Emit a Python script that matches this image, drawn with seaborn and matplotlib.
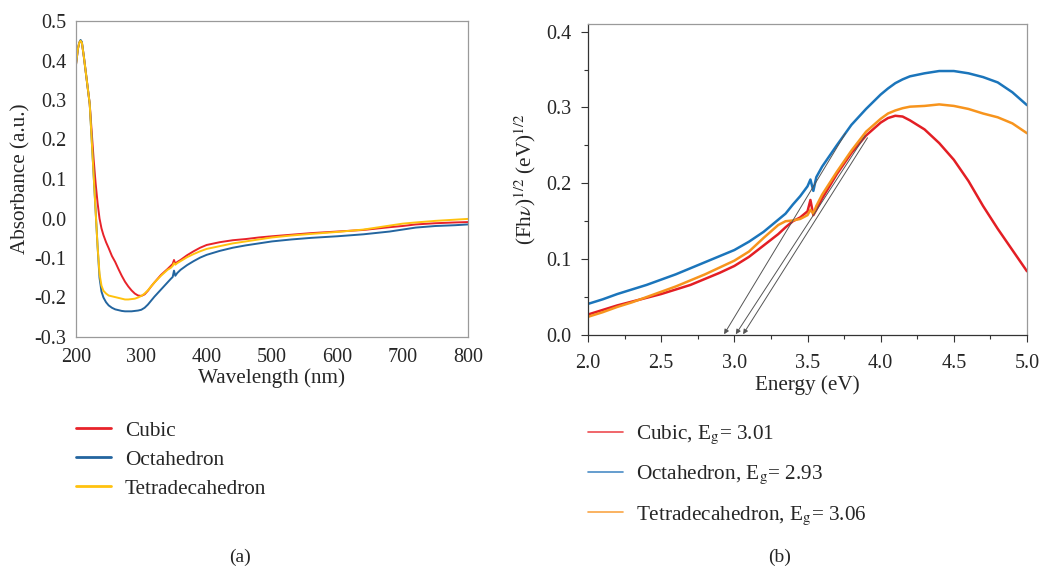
import numpy as np
import pandas as pd
import matplotlib
matplotlib.use("Agg")
import matplotlib.pyplot as plt
import seaborn as sns
from matplotlib.ticker import MultipleLocator, FormatStrFormatter
from matplotlib.lines import Line2D

# ── Data: (a) UV-vis absorbance ───────────────────────────────────────────────
wavelength = [200, 203, 205, 207, 209, 212, 215, 218, 221, 224, 227, 230, 233, 236,
              239, 242, 246, 250, 255, 260, 265, 270, 275, 280, 285, 290, 295, 300,
              305, 310, 315, 320, 330, 340, 345, 348, 350, 352, 355, 360, 370, 380,
              390, 400, 420, 440, 460, 480, 500, 530, 560, 600, 640, 680, 700, 720,
              750, 780, 800]
abs_cubic = [0.39, 0.43, 0.445, 0.45, 0.445, 0.41, 0.37, 0.33, 0.29, 0.22, 0.15, 0.09,
             0.04, 0.0, -0.025, -0.042, -0.06, -0.075, -0.095, -0.11, -0.128, -0.145,
             -0.16, -0.172, -0.182, -0.19, -0.195, -0.196, -0.192, -0.183, -0.172,
             -0.162, -0.143, -0.128, -0.12, -0.115, -0.105, -0.115, -0.11, -0.105,
             -0.093, -0.083, -0.074, -0.067, -0.06, -0.055, -0.052, -0.048, -0.045,
             -0.041, -0.037, -0.033, -0.029, -0.022, -0.019, -0.015, -0.012, -0.01,
             -0.009]
abs_octa = [0.39, 0.43, 0.445, 0.452, 0.447, 0.41, 0.37, 0.33, 0.29, 0.20, 0.11, 0.02,
            -0.07, -0.15, -0.185, -0.2, -0.212, -0.22, -0.226, -0.23, -0.232, -0.234,
            -0.235, -0.235, -0.235, -0.234, -0.233, -0.231, -0.226, -0.218, -0.208,
            -0.198, -0.18, -0.162, -0.153, -0.148, -0.132, -0.145, -0.138, -0.13,
            -0.118, -0.108, -0.099, -0.092, -0.082, -0.074, -0.068, -0.063, -0.058,
            -0.053, -0.049, -0.045, -0.04, -0.033, -0.028, -0.023, -0.019, -0.017,
            -0.015]
abs_tetra = [0.39, 0.43, 0.445, 0.45, 0.445, 0.41, 0.37, 0.33, 0.29, 0.20, 0.11, 0.02,
             -0.07, -0.14, -0.17, -0.183, -0.19, -0.195, -0.197, -0.199, -0.201,
             -0.203, -0.205, -0.205, -0.204, -0.203, -0.2, -0.196, -0.19, -0.182,
             -0.172, -0.162, -0.145, -0.13, -0.125, -0.12, -0.113, -0.117, -0.113,
             -0.108, -0.098, -0.09, -0.083, -0.077, -0.07, -0.063, -0.058, -0.053,
             -0.048, -0.043, -0.039, -0.034, -0.028, -0.018, -0.013, -0.01, -0.006,
             -0.003, -0.001]

# ── Data: (b) Kubelka-Munk plot ───────────────────────────────────────────────
energy = [2.0, 2.1, 2.2, 2.3, 2.4, 2.5, 2.6, 2.7, 2.8, 2.9, 3.0, 3.1, 3.2, 3.3, 3.35,
          3.4, 3.45, 3.5, 3.52, 3.54, 3.56, 3.6, 3.7, 3.8, 3.9, 4.0, 4.05, 4.1, 4.15,
          4.2, 4.3, 4.4, 4.5, 4.6, 4.7, 4.8, 4.9, 5.0]
km_cubic = [0.027, 0.033, 0.039, 0.044, 0.049, 0.054, 0.060, 0.066, 0.074, 0.082,
            0.091, 0.103, 0.118, 0.133, 0.142, 0.150, 0.155, 0.163, 0.178, 0.158,
            0.165, 0.180, 0.212, 0.240, 0.263, 0.280, 0.286, 0.289, 0.288, 0.283,
            0.271, 0.253, 0.231, 0.203, 0.170, 0.140, 0.112, 0.084]
km_octa = [0.041, 0.047, 0.054, 0.060, 0.066, 0.073, 0.080, 0.088, 0.096, 0.104,
           0.112, 0.123, 0.136, 0.152, 0.160, 0.172, 0.183, 0.196, 0.205, 0.190,
           0.208, 0.222, 0.250, 0.277, 0.298, 0.317, 0.325, 0.332, 0.337, 0.341,
           0.345, 0.348, 0.348, 0.345, 0.340, 0.333, 0.320, 0.303]
km_tetra = [0.024, 0.030, 0.037, 0.043, 0.050, 0.057, 0.064, 0.072, 0.080, 0.089,
            0.098, 0.110, 0.128, 0.145, 0.150, 0.151, 0.153, 0.158, 0.165, 0.160,
            0.170, 0.185, 0.215, 0.243, 0.268, 0.285, 0.292, 0.296, 0.299, 0.301,
            0.302, 0.304, 0.302, 0.298, 0.292, 0.287, 0.279, 0.266]

shapes = ["Cubic", "Octahedron", "Tetradecahedron"]
band_gap = [3.01, 2.93, 3.06]
tangent_top_E = [3.895, 3.76, 3.91]
tangent_top_y = [0.263, 0.266, 0.26]

COL_A = ["#E8232A", "#23659F", "#FFC20E"]
COL_B = ["#E31E24", "#1B75BB", "#F7941D"]
COL_B_LEG = ["#EE4B50", "#4A8CC6", "#F9A545"]

df_a = pd.DataFrame({"wl": wavelength * 3,
                     "A": abs_cubic + abs_octa + abs_tetra,
                     "shape": sum([[s] * len(wavelength) for s in shapes], [])})
df_b = pd.DataFrame({"E": energy * 3,
                     "F": km_cubic + km_octa + km_tetra,
                     "shape": sum([[s] * len(energy) for s in shapes], [])})

sns.set_style("white")
plt.rcParams["font.family"] = ["Liberation Serif", "DejaVu Serif"]
plt.rcParams["mathtext.fontset"] = "stix"
plt.rcParams["axes.unicode_minus"] = False
FS_TICK = 14.5
FS_LAB = 15.2
FS_LEG = 15.3

fig = plt.figure(figsize=(10.39, 5.69), dpi=100)
W, H = 1039, 569
ax1 = fig.add_axes([76 / W, (H - 337) / H, 392 / W, 316 / H])
ax2 = fig.add_axes([588 / W, (H - 335) / H, 439 / W, 311 / H])

# ── Panel (a) ────────────────────────────────────────────────────────────────
sns.lineplot(data=df_a, x="wl", y="A", hue="shape", palette=COL_A, lw=1.4,
             legend=False, ax=ax1)
ax1.set_xlim(200, 800)
ax1.set_ylim(-0.3, 0.5)
ax1.xaxis.set_major_locator(MultipleLocator(100))
ax1.yaxis.set_major_locator(MultipleLocator(0.1))
ax1.yaxis.set_major_formatter(FormatStrFormatter("%.1f"))
ax1.tick_params(length=0, labelsize=FS_TICK)
ax1.tick_params(axis="x", pad=8)
ax1.tick_params(axis="y", pad=7)
for sp in ax1.spines.values():
    sp.set_color("#9a9a9a")
    sp.set_linewidth(0.9)
ax1.set_xlabel("Wavelength (nm)", fontsize=FS_LAB, labelpad=1)
ax1.set_ylabel("Absorbance (a.u.)", fontsize=FS_LAB, labelpad=3)

h1 = [Line2D([], [], color=c, lw=2) for c in COL_A]
fig.legend(h1, shapes, loc="upper left", bbox_to_anchor=(76 / W, (H - 421) / H),
           frameon=False, fontsize=FS_LEG, handlelength=1.65, handletextpad=0.65,
           labelspacing=0.43, borderpad=0, borderaxespad=0)

# ── Panel (b) ────────────────────────────────────────────────────────────────
sns.lineplot(data=df_b, x="E", y="F", hue="shape", palette=COL_B, lw=1.8,
             legend=False, ax=ax2)
for eg, xe, ye in zip(band_gap, tangent_top_E, tangent_top_y):
    ax2.annotate("", xy=(eg, 0.001), xytext=(xe, ye),
                 arrowprops=dict(arrowstyle="-|>", color="#555555", lw=0.7,
                                 mutation_scale=7, shrinkA=0, shrinkB=0))
ax2.set_xlim(2.0, 5.0)
ax2.set_ylim(0, 0.41)
ax2.xaxis.set_major_locator(MultipleLocator(0.5))
ax2.xaxis.set_minor_locator(MultipleLocator(0.25))
ax2.yaxis.set_major_locator(MultipleLocator(0.1))
ax2.yaxis.set_minor_locator(MultipleLocator(0.05))
ax2.xaxis.set_major_formatter(FormatStrFormatter("%.1f"))
ax2.yaxis.set_major_formatter(FormatStrFormatter("%.1f"))
ax2.tick_params(which="both", direction="out", bottom=True, left=True,
                color="#333333", width=0.8)
ax2.tick_params(which="major", length=5, labelsize=FS_TICK)
ax2.tick_params(which="minor", length=3)
ax2.tick_params(axis="x", pad=9)
ax2.tick_params(axis="y", pad=7)
for side in ["top", "right"]:
    ax2.spines[side].set_color("#9a9a9a")
for side in ["left", "bottom"]:
    ax2.spines[side].set_color("#333333")
for sp in ax2.spines.values():
    sp.set_linewidth(0.9)
ax2.set_xlabel("Energy (eV)", fontsize=FS_LAB, labelpad=1)
ax2.set_ylabel(r"(Fh$\nu$)$^{1/2}$ (eV)$^{1/2}$", fontsize=FS_LAB, labelpad=6)

lab_b = [f"{s}, E$_\\mathrm{{g}}$= {e:.2f}" for s, e in zip(shapes, band_gap)]
h2 = [Line2D([], [], color=c, lw=1.2) for c in COL_B_LEG]
fig.legend(h2, lab_b, loc="upper left", bbox_to_anchor=(588 / W, (H - 424) / H),
           frameon=False, fontsize=FS_LEG, handlelength=1.65, handletextpad=0.6,
           labelspacing=0.8, borderpad=0, borderaxespad=0)

fig.text(240 / W, (H - 557) / H, "(a)", ha="center", va="center", fontsize=14)
fig.text(780 / W, (H - 557) / H, "(b)", ha="center", va="center", fontsize=14)

fig.savefig("out.png", dpi=100)
